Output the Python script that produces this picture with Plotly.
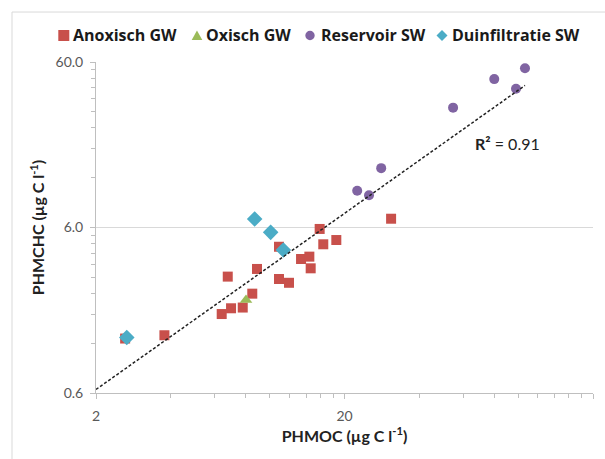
import plotly.graph_objects as go
import math

# ---- data ----
anox_x = [2.62, 3.77, 6.78, 6.41, 6.99, 7.79, 8.51, 8.89, 10.9, 10.9, 11.96, 13.37, 14.44, 14.62, 15.89, 16.43, 18.54, 30.8]
anox_y = [1.28, 1.34, 3.03, 1.80, 1.95, 1.97, 2.39, 3.37, 4.59, 2.93, 2.78, 3.87, 4.00, 3.40, 5.88, 4.75, 5.04, 6.78]

oxi_x = [8.03]
oxi_y = [2.19]

res_x = [106.5, 80.1, 98.0, 54.7, 28.1, 22.5, 25.1]
res_y = [55.0, 47.3, 41.4, 31.8, 13.7, 10.0, 9.39]

duin_x = [2.66, 8.70, 10.09, 11.35]
duin_y = [1.30, 6.75, 5.61, 4.39]

series_names = ["Anoxisch GW", "Oxisch GW", "Reservoir SW", "Duinfiltratie SW"]

trend_x = [2.0, 106.5]
trend_y = [0.63, 43.3]
r2_text = "0.91"

x_ticks = [2, 20, 200]
x_ticktext = ["2", "20", "200"]
y_ticks = [0.6, 6, 60]
y_ticktext = ["0.6", "6.0", "60.0"]

x_minor = [2 * k for k in range(2, 10)] + [20 * k for k in range(2, 10)]
y_minor = [0.6 * k for k in range(2, 10)] + [6 * k for k in range(2, 10)]

# ---- styles ----
FONT = "Lato"
COLORS = ["#C8504B", "#9BBB59", "#8064A2", "#4BACC6"]
SYMBOLS = ["square", "triangle-up", "circle", "diamond"]
SIZES = [10, 11, 10, 12]

fig = go.Figure()
for xs, ys, name, col, sym, sz in zip([anox_x, oxi_x, res_x, duin_x], [anox_y, oxi_y, res_y, duin_y],
                                      series_names, COLORS, SYMBOLS, SIZES):
    fig.add_trace(go.Scatter(x=xs, y=ys, mode="markers", name=name, showlegend=False,
                             marker=dict(symbol=sym, size=sz, color=col, line=dict(width=0))))
fig.add_trace(go.Scatter(x=trend_x, y=trend_y, mode="lines", showlegend=False, name="Power trend",
                         line=dict(color="#222222", width=1.5, dash="3px,2px"), hoverinfo="skip"))

fig.update_layout(
    width=605, height=459,
    margin=dict(l=96, r=12, t=62, b=66),
    paper_bgcolor="white", plot_bgcolor="white",
    font=dict(family=FONT, size=14, color="#595959"),
    showlegend=False,
)

fig.update_xaxes(type="log", range=[math.log10(2), math.log10(200)],
                 tickmode="array", tickvals=x_ticks, ticktext=x_ticktext,
                 showgrid=False, zeroline=False,
                 showline=True, linecolor="#bfbfbf", linewidth=1,
                 ticks="outside", ticklen=5, tickcolor="#bfbfbf", ticklabelstandoff=5,
                 minor=dict(tickmode="array", tickvals=x_minor, ticks="outside", ticklen=4,
                            tickcolor="#bfbfbf", showgrid=False),
                 tickfont=dict(family=FONT, size=14, color="#595959"),
                 title=dict(text="PHMOC (µg C l<sup>-1</sup>)", standoff=6,
                            font=dict(family=FONT, size=16, color="#222222", weight="bold")))
fig.update_yaxes(type="log", range=[math.log10(0.6), math.log10(60)],
                 tickmode="array", tickvals=y_ticks, ticktext=y_ticktext,
                 showgrid=True, gridcolor="#d9d9d9", gridwidth=1, zeroline=False,
                 showline=True, linecolor="#bfbfbf", linewidth=1,
                 ticks="outside", ticklen=5, tickcolor="#bfbfbf", ticklabelstandoff=4,
                 minor=dict(tickmode="array", tickvals=y_minor, ticks="outside", ticklen=4,
                            tickcolor="#bfbfbf", showgrid=False),
                 tickfont=dict(family=FONT, size=14, color="#595959"),
                 title=dict(text="PHMCHC (µg C l<sup>-1</sup>)", standoff=6,
                            font=dict(family=FONT, size=16, color="#222222", weight="bold")))

# ---- legend drawn as shapes + text (paper coords) ----
LEG_SYM_Y = 1.0801
LEG_TXT_Y = 1.0816
leg_sym_x = [-0.0648, 0.2032, 0.4306, 0.6962]
leg_txt_x = [-0.0499, 0.2177, 0.4477, 0.7127]
sym_paths = {
    "triangle-up": "M-5.3,-4.5 L5.3,-4.5 L0,5 Z",
    "diamond": "M0,-5.5 L5.5,0 L0,5.5 L-5.5,0 Z",
}
for name, col, sym, sx, tx in zip(series_names, COLORS, SYMBOLS, leg_sym_x, leg_txt_x):
    common = dict(xref="paper", yref="paper", xsizemode="pixel", ysizemode="pixel",
                  xanchor=sx, yanchor=LEG_SYM_Y, fillcolor=col, line=dict(width=0))
    if sym == "square":
        fig.add_shape(type="rect", x0=-5.5, x1=5.5, y0=-5.5, y1=5.5, **common)
    elif sym == "circle":
        fig.add_shape(type="circle", x0=-4.7, x1=4.7, y0=-4.7, y1=4.7, **common)
    else:
        fig.add_shape(type="path", path=sym_paths[sym], **common)
    fig.add_annotation(xref="paper", yref="paper", x=tx, y=LEG_TXT_Y, xanchor="left", yanchor="middle",
                       text=name, showarrow=False,
                       font=dict(family="Open Sans", size=16, color="#1a1a1a", weight="bold"))

fig.add_annotation(xref="paper", yref="paper", x=0.7586, y=0.755, xanchor="left", yanchor="middle",
                   text="<b>R²</b> = " + r2_text, showarrow=False,
                   font=dict(family=FONT, size=16, color="#222222"))

# outer chart border
fig.add_shape(type="rect", xref="paper", yref="paper", x0=-0.169, x1=1.2, y0=-0.4, y1=1.151,
              line=dict(color="#d9d9d9", width=1), fillcolor="rgba(0,0,0,0)", layer="below")

fig.write_html("out.html")
